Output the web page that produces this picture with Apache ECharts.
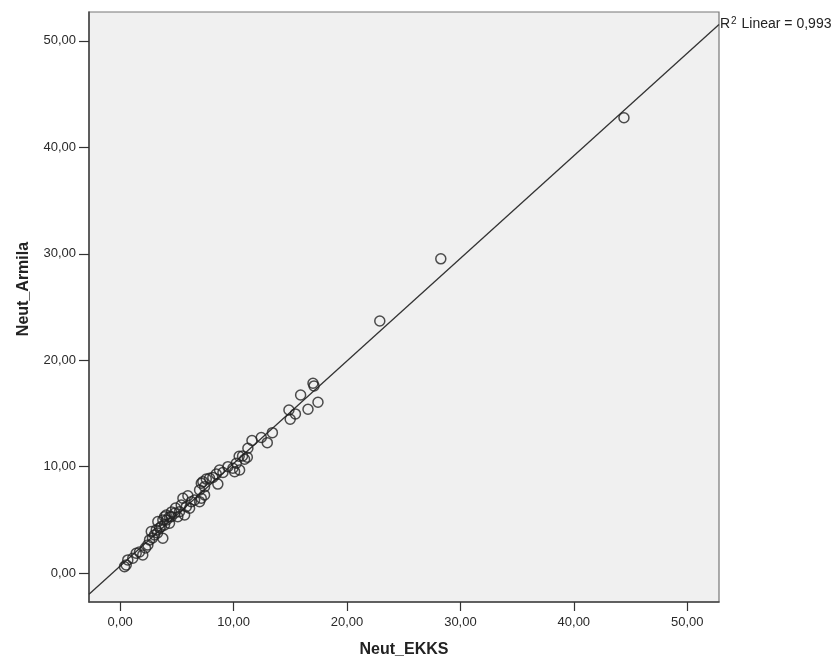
<!DOCTYPE html>
<html>
<head>
<meta charset="utf-8">
<title>Neut_Armila vs Neut_EKKS</title>
<script src="https://cdn.jsdelivr.net/npm/echarts@6/dist/echarts.min.js"></script>
<style>
  html, body { margin: 0; padding: 0; background: #ffffff; }
  #chart { width: 838px; height: 667px; }
</style>
</head>
<body>
<div id="chart"></div>
<script>
// Paired neutrophil measurements: EKKS method (x) against Armila method (y)
const neutEKKS = [
  44.42, 28.27, 22.89,
  17.00, 17.09, 15.91, 17.44, 16.56, 14.88, 15.45, 14.99,
  13.42, 12.97, 12.44, 11.62, 11.26, 10.49, 11.21, 10.97, 10.79,
  10.24, 10.53, 10.09, 9.94, 9.50, 9.06, 8.76, 8.47, 8.17, 7.88,
  7.59, 7.29, 7.15, 7.44, 8.61, 7.00, 7.44, 7.15, 7.00, 6.56,
  5.97, 5.53, 6.27, 5.83, 5.38, 6.12, 5.68, 5.23, 5.08, 4.79,
  4.50, 4.35, 4.06, 3.91, 3.76, 3.32, 4.35, 3.62, 3.18, 3.03,
  2.74, 3.76, 2.59, 2.44, 1.99, 1.41, 1.11, 0.67, 0.53, 0.38,
  3.47, 3.91, 3.29, 4.09, 2.85, 4.53, 2.23, 1.70, 4.88
];
const neutArmila = [
  42.77, 29.52, 23.69,
  17.84, 17.59, 16.74, 16.06, 15.40, 15.33, 14.96, 14.46,
  13.20, 12.26, 12.75, 12.47, 11.74, 10.99, 10.89, 10.70, 11.01,
  10.33, 9.70, 9.54, 9.86, 10.01, 9.46, 9.70, 9.31, 9.00, 8.92,
  8.84, 8.60, 8.45, 8.13, 8.37, 7.82, 7.35, 7.04, 6.72, 6.88,
  7.28, 7.04, 6.72, 6.25, 6.41, 6.10, 5.47, 5.78, 5.31, 5.63,
  5.31, 5.31, 5.47, 5.31, 5.00, 4.85, 4.69, 4.38, 4.07, 3.60,
  3.91, 3.29, 3.13, 2.66, 1.72, 1.88, 1.41, 1.25, 0.78, 0.62,
  4.25, 4.54, 3.78, 5.00, 3.31, 5.76, 2.38, 2.00, 6.13
];

// Axis tick values
const xTicks = [0, 10, 20, 30, 40, 50];
const yTicks = [0, 10, 20, 30, 40, 50];

// Linear fit (Neut_Armila on Neut_EKKS) and its R squared
const fitIntercept = 0.67;
const fitSlope = 0.963;
const rSquared = 0.993;

const xRange = [-2.75, 52.8];
const yRange = [-2.7, 52.7];

const points = neutEKKS.map((x, i) => [x, neutArmila[i]]);
const fitLine = xRange.map(x => [x, fitIntercept + fitSlope * x]);

const fmt = v => v.toFixed(2).replace('.', ',');
const FONT = '"Liberation Sans", Arial, Helvetica, sans-serif';

const chart = echarts.init(document.getElementById('chart'), null, { renderer: 'canvas' });

chart.setOption({
  animation: false,
  backgroundColor: '#ffffff',
  grid: {
    left: 89,
    right: 119,
    top: 12,
    bottom: 65,
    show: true,
    backgroundColor: '#f0f0f0',
    borderColor: '#777777',
    borderWidth: 1.2
  },
  xAxis: {
    type: 'value',
    min: xRange[0],
    max: xRange[1],
    name: 'Neut_EKKS',
    nameLocation: 'middle',
    nameGap: 40,
    nameTextStyle: { fontFamily: FONT, fontSize: 16, fontWeight: 'bold', color: '#222222' },
    axisLine: { show: true, onZero: false, lineStyle: { color: '#444444', width: 1.5 } },
    axisTick: { show: true, length: 9, customValues: xTicks, lineStyle: { color: '#333333', width: 1.2 } },
    axisLabel: {
      customValues: xTicks,
      formatter: fmt,
      margin: 14,
      fontFamily: FONT,
      fontSize: 13,
      color: '#2a2a2a'
    },
    splitLine: { show: false }
  },
  yAxis: {
    type: 'value',
    min: yRange[0],
    max: yRange[1],
    axisLine: { show: true, onZero: false, lineStyle: { color: '#444444', width: 1.5 } },
    axisTick: { show: true, length: 10, customValues: yTicks, lineStyle: { color: '#333333', width: 1.2 } },
    axisLabel: {
      customValues: yTicks,
      formatter: fmt,
      margin: 13,
      fontFamily: FONT,
      fontSize: 13,
      color: '#2a2a2a'
    },
    splitLine: { show: false }
  },
  graphic: [
    {
      type: 'text',
      x: 24,
      y: 289,
      rotation: Math.PI / 2,
      style: {
        text: 'Neut_Armila',
        font: 'bold 16px ' + FONT,
        fill: '#222222',
        textAlign: 'center',
        textVerticalAlign: 'middle'
      }
    },
    {
      type: 'text',
      x: 720,
      y: 24,
      style: {
        text: '{r|R}{s|2}{r| Linear = ' + rSquared.toFixed(3).replace('.', ',') + '}',
        textVerticalAlign: 'middle',
        rich: {
          r: { fontFamily: FONT, fontSize: 14, fill: '#222222', color: '#222222' },
          s: { fontFamily: FONT, fontSize: 10, fill: '#222222', color: '#222222', verticalAlign: 'top', padding: [0, 1, 6, 1] }
        }
      }
    }
  ],
  series: [
    {
      type: 'line',
      data: fitLine,
      showSymbol: false,
      silent: true,
      lineStyle: { color: '#333333', width: 1.3 },
      z: 2
    },
    {
      type: 'scatter',
      data: points,
      symbol: 'circle',
      symbolSize: 10,
      itemStyle: { color: 'rgba(0,0,0,0)', borderColor: '#222222', borderWidth: 1.5 },
      z: 3
    }
  ]
});
</script>
</body>
</html>
